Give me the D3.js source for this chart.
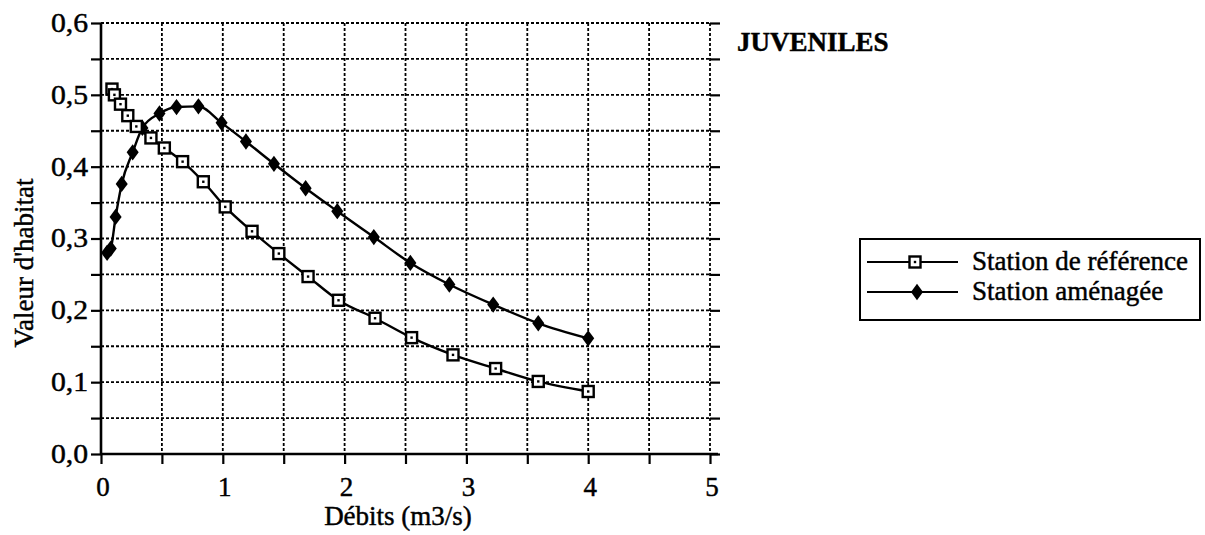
<!DOCTYPE html>
<html>
<head>
<meta charset="utf-8">
<script src="https://cdn.jsdelivr.net/npm/d3@7"></script>
<style>
  html, body { margin: 0; padding: 0; background: #fff; }
  svg { display: block; }
  text { font-family: "Liberation Serif", "Times New Roman", serif; fill: #000; stroke: #000; stroke-width: 0.45px; }
</style>
</head>
<body>
<svg id="chart" width="1205" height="535"></svg>
<script>
// ---- data ----
const refDebits = [0.09, 0.11, 0.16, 0.22, 0.29, 0.41, 0.52, 0.67, 0.84, 1.02, 1.24, 1.46, 1.70, 1.95, 2.25, 2.55, 2.89, 3.24, 3.59, 4.00];
const refValeurs = [0.508, 0.500, 0.487, 0.471, 0.456, 0.440, 0.426, 0.407, 0.379, 0.344, 0.310, 0.279, 0.247, 0.214, 0.189, 0.162, 0.138, 0.119, 0.101, 0.087];
const amDebits = [0.05, 0.08, 0.12, 0.17, 0.26, 0.34, 0.48, 0.62, 0.80, 0.99, 1.19, 1.42, 1.68, 1.94, 2.24, 2.54, 2.86, 3.22, 3.59, 4.00];
const amValeurs = [0.280, 0.286, 0.330, 0.376, 0.420, 0.454, 0.474, 0.483, 0.484, 0.461, 0.435, 0.404, 0.370, 0.338, 0.302, 0.266, 0.236, 0.208, 0.182, 0.161];
const xTicks = [0, 1, 2, 3, 4, 5];
const yTicks = [0, 0.1, 0.2, 0.3, 0.4, 0.5, 0.6];
const seriesNames = ["Station de référence", "Station aménagée"];
const titleText = "JUVENILES";
const xTitle = "Débits (m3/s)";
const yTitle = "Valeur d'habitat";

// ---- layout ----
const svg = d3.select("#chart");
const L = 101, R = 710, T = 23, B = 454;
const x = d3.scaleLinear().domain([0, 5]).range([L, R]);
const y = d3.scaleLinear().domain([0, 0.6]).range([B, T]);
const fmt = d => d3.format(".1f")(d).replace(".", ",");

// grid (dotted)
const xGrid = d3.range(0.5, 5.01, 0.5);
const yGrid = d3.range(0.05, 0.601, 0.05);
const grid = svg.append("g").attr("stroke", "#000").attr("stroke-width", 1.8).attr("stroke-dasharray", "3,2");
grid.selectAll(".vg").data(xGrid).join("line")
  .attr("x1", d => x(d)).attr("x2", d => x(d)).attr("y1", T).attr("y2", B);
grid.selectAll(".hg").data(yGrid).join("line")
  .attr("y1", d => y(d)).attr("y2", d => y(d)).attr("x1", L).attr("x2", R);

// left axis
const yAxis = d3.axisLeft(y).tickValues(d3.range(0, 0.601, 0.05)).tickSize(10).tickFormat("");
const gy = svg.append("g").attr("transform", `translate(${L},0)`).call(yAxis);
gy.select(".domain").attr("stroke", "#000").attr("stroke-width", 2.6).attr("d", `M0,${T}V${B}`);
gy.selectAll(".tick line").attr("stroke", "#000").attr("stroke-width", 2.2);
svg.append("g").selectAll("text").data(yTicks).join("text")
  .attr("x", 88).attr("y", d => y(d) + 9)
  .attr("text-anchor", "end").attr("font-size", 27)
  .attr("transform", `translate(88,0) scale(1.1,1) translate(-88,0)`)
  .text(fmt);

// right ticks
const yAxisR = d3.axisRight(y).tickValues(d3.range(0, 0.601, 0.05)).tickSize(10).tickFormat("");
const gyr = svg.append("g").attr("transform", `translate(${R},0)`).call(yAxisR);
gyr.select(".domain").remove();
gyr.selectAll(".tick line").attr("stroke", "#000").attr("stroke-width", 2.2);

// bottom axis
const xAxis = d3.axisBottom(x).tickValues(d3.range(0, 5.01, 0.5)).tickSize(10).tickFormat("");
const gx = svg.append("g").attr("transform", `translate(0,${B})`).call(xAxis);
gx.select(".domain").attr("stroke", "#000").attr("stroke-width", 2.6).attr("d", `M${L},0H${R + 8}`);
gx.selectAll(".tick line").attr("stroke", "#000").attr("stroke-width", 2.2);
svg.append("g").selectAll("text").data(xTicks).join("text")
  .attr("x", d => x(d) + 2).attr("y", 496)
  .attr("text-anchor", "middle").attr("font-size", 27)
  .text(d => d);

// axis titles
svg.append("text").attr("x", 398).attr("y", 525).attr("text-anchor", "middle")
  .attr("font-size", 27).text(xTitle);
svg.append("text").attr("transform", "translate(33,263) rotate(-90)")
  .attr("text-anchor", "middle").attr("font-size", 27).text(yTitle);

// title
svg.append("text").attr("x", 737).attr("y", 51).attr("font-size", 27)
  .attr("font-weight", "bold").text(titleText);

// series
const refData = refDebits.map((d, i) => [d, refValeurs[i]]);
const amData = amDebits.map((d, i) => [d, amValeurs[i]]);
const line = d3.line().x(d => x(d[0])).y(d => y(d[1])).curve(d3.curveMonotoneX);

svg.append("path").datum(refData).attr("d", line)
  .attr("fill", "none").attr("stroke", "#000").attr("stroke-width", 2.4);
svg.append("path").datum(amData).attr("d", line)
  .attr("fill", "none").attr("stroke", "#000").attr("stroke-width", 2.4);

const diamond = d3.symbol().type(d3.symbolDiamond).size(95);
function drawDiamond(g, cx, cy) {
  g.append("path").attr("d", diamond()).attr("transform", `translate(${cx},${cy}) scale(1.15,0.9)`).attr("fill", "#000");
}
function drawSquare(g, cx, cy) {
  g.append("rect").attr("x", cx - 5.5).attr("y", cy - 5.5).attr("width", 11).attr("height", 11)
    .attr("fill", "#fff").attr("stroke", "#000").attr("stroke-width", 2.4);
  g.append("rect").attr("x", cx - 1.2).attr("y", cy - 1.2).attr("width", 2.4).attr("height", 2.4).attr("fill", "#000");
}
const mk = svg.append("g");
amData.forEach(d => drawDiamond(mk, x(d[0]), y(d[1])));
refData.forEach(d => drawSquare(mk, x(d[0]), y(d[1])));

// legend
const lg = svg.append("g");
lg.append("rect").attr("x", 860).attr("y", 239).attr("width", 340).attr("height", 81)
  .attr("fill", "none").attr("stroke", "#000").attr("stroke-width", 2);
const rows = [262, 292];
seriesNames.forEach((name, i) => {
  lg.append("line").attr("x1", 867).attr("x2", 958).attr("y1", rows[i]).attr("y2", rows[i])
    .attr("stroke", "#000").attr("stroke-width", 2);
  if (i === 0) drawSquare(lg, 915, rows[i]); else drawDiamond(lg, 917, rows[i]);
  lg.append("text").attr("x", 972).attr("y", rows[i] + 8).attr("font-size", 27).text(name);
});
</script>
</body>
</html>
